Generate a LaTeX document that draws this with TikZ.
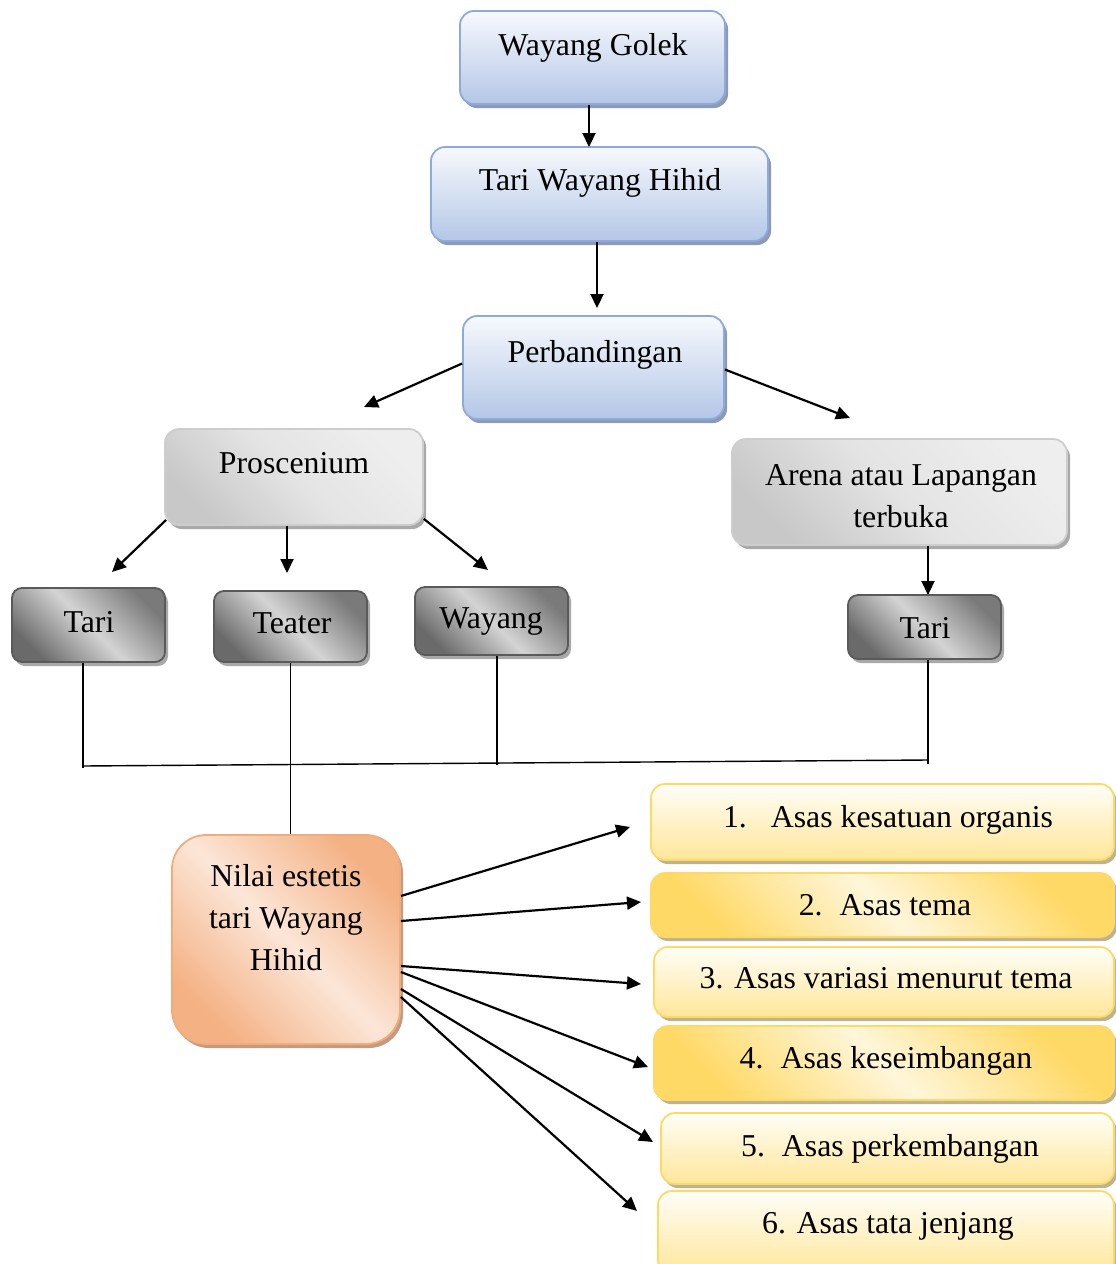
\documentclass[tikz,border=0pt]{standalone}
\usepackage{fontspec}
\setmainfont{Liberation Serif}
\usetikzlibrary{shadows,arrows.meta,calc,shadings}
\definecolor{blueTop}{HTML}{F7F9FD}
\definecolor{blueBot}{HTML}{B4C7E7}
\definecolor{blueBd}{HTML}{8EAADC}
\definecolor{blueSh}{HTML}{8C9AB3}
\definecolor{lgA}{HTML}{C8C8C8}
\definecolor{lgB}{HTML}{E4E4E4}
\definecolor{lgC}{HTML}{EEEEEE}
\definecolor{lgBd}{HTML}{CDCDCD}
\definecolor{grSh}{HTML}{A9A9A9}
\definecolor{dkA}{HTML}{6A6A6A}
\definecolor{dkB}{HTML}{D4D4D4}
\definecolor{dkC}{HTML}{7A7A7A}
\definecolor{dkBd}{HTML}{5A5A5A}
\definecolor{orA}{HTML}{F4B183}
\definecolor{orB}{HTML}{FCE6D8}
\definecolor{orBd}{HTML}{F2AC7C}
\definecolor{orSh}{HTML}{C49A80}
\definecolor{yeTop}{HTML}{FFFEF8}
\definecolor{yeBot}{HTML}{FFE699}
\definecolor{yeA}{HTML}{FFD966}
\definecolor{yeB}{HTML}{FFF6DA}
\definecolor{yeBd}{HTML}{FFD966}
\definecolor{yeSh}{HTML}{BDB38F}
\begin{document}
\begin{tikzpicture}[x=1pt,y=-1pt,
  txt/.style={font=\fontsize{31.8}{42}\selectfont, inner sep=0pt, anchor=base, align=center},
  boxbase/.style={rounded corners=14pt, line width=1.8pt, inner sep=0pt},
  bluebox/.style={boxbase, draw=blueBd, top color=blueTop, bottom color=blueBot,
    drop shadow={shadow xshift=3pt, shadow yshift=-4pt, fill=blueSh, opacity=1}},
  lgbox/.style={boxbase, draw=lgBd, left color=lgA, right color=lgC, middle color=lgB, shading angle=135,
    drop shadow={shadow xshift=3pt, shadow yshift=-4pt, fill=grSh, opacity=1}},
  dkbox/.style={boxbase, rounded corners=10pt, draw=dkBd, left color=dkA, right color=dkC, middle color=dkB, shading angle=135,
    drop shadow={shadow xshift=3pt, shadow yshift=-4pt, fill=grSh, opacity=1}},
  orbox/.style={boxbase, rounded corners=34pt, draw=orBd, left color=orA, right color=orA, middle color=orB, shading angle=135,
    drop shadow={shadow xshift=3pt, shadow yshift=-4pt, fill=orSh, opacity=1}},
  yebox/.style={boxbase, draw=yeBd, top color=yeTop, bottom color=yeBot,
    drop shadow={shadow xshift=3pt, shadow yshift=-4pt, fill=yeSh, opacity=1}},
  yeboxd/.style={boxbase, draw=yeBd, left color=yeA, right color=yeA, middle color=yeB, shading angle=135,
    drop shadow={shadow xshift=3pt, shadow yshift=-4pt, fill=yeSh, opacity=1}},
  arr/.style={line width=2.2pt, -{Triangle[length=14pt,width=13pt]}},
  ln/.style={line width=1.4pt}
]
\useasboundingbox (0,0) rectangle (1116,1264);
\fill[white] (0,0) rectangle (1116,1264);
\clip (0,0) rectangle (1116,1264);

% boxes
\node[bluebox, minimum width=265pt, minimum height=93pt] (golek) at (592.5,57.5) {};
\node[bluebox, minimum width=337pt, minimum height=94pt] (hihid) at (599.5,194) {};
\node[bluebox, minimum width=261pt, minimum height=103pt] (perb) at (593.5,367.5) {};
\node[lgbox, minimum width=258pt, minimum height=96pt] (pros) at (294,477) {};
\node[lgbox, minimum width=335pt, minimum height=106pt] (arena) at (899.5,492) {};
\node[dkbox, minimum width=153pt, minimum height=74pt] (tariL) at (88.5,625) {};
\node[dkbox, minimum width=153pt, minimum height=71pt] (teater) at (290.5,626.5) {};
\node[dkbox, minimum width=153pt, minimum height=68pt] (wayang) at (491.5,621) {};
\node[dkbox, minimum width=153pt, minimum height=64pt] (tariR) at (924.5,627) {};
\node[orbox, minimum width=228pt, minimum height=209pt] (nilai) at (286,939.5) {};
\node[yebox, minimum width=463pt, minimum height=76pt] (y1) at (882.5,822) {};
\node[yeboxd, minimum width=463pt, minimum height=64pt] (y2) at (882.5,905) {};
\node[yebox, minimum width=460pt, minimum height=70pt] (y3) at (884,982) {};
\node[yeboxd, minimum width=460pt, minimum height=74pt] (y4) at (884,1063) {};
\node[yebox, minimum width=453pt, minimum height=71pt] (y5) at (887.5,1148.5) {};
\node[yebox, minimum width=456pt, minimum height=84pt] (y6) at (886,1233) {};

% texts
\node[txt] (tGolek) at (593,55) {Wayang Golek};
\node[txt] (tHihid) at (600,190) {Tari Wayang Hihid};
\node[txt] (tPerb) at (595,362) {Perbandingan};
\node[txt] (tPros) at (294,473) {Proscenium};
\node[txt] (tArena) at (901,527) {Arena atau Lapangan\\terbuka};
\node[txt] (tTariL) at (89,632) {Tari};
\node[txt] (tTeater) at (292,633) {Teater};
\node[txt] (tWayang) at (491,628) {Wayang};
\node[txt] (tTariR) at (925,638) {Tari};
\node[txt] (tNilai) at (286,970) {Nilai estetis\\tari Wayang\\Hihid};
\node[txt] (t1) at (888,827) {1.\hspace{24pt}Asas kesatuan organis};
\node[txt] (t2) at (885,915) {2.\hspace{17pt}Asas tema};
\node[txt] (t3) at (886,988) {3. Asas variasi menurut tema};
\node[txt] (t4) at (886,1068) {4.\hspace{17pt}Asas keseimbangan};
\node[txt] (t5) at (890,1156) {5.\hspace{17pt}Asas perkembangan};
\node[txt] (t6) at (888,1233) {6. Asas tata jenjang};

% arrow tips and junctions
\coordinate (aGH) at (589,147);
\coordinate (aHP) at (597,308);
\coordinate (aPL) at (364,407);
\coordinate (aPR) at (850,418);
\coordinate (aTL) at (112,572);
\coordinate (aTT) at (287,573);
\coordinate (aTW) at (488,570);
\coordinate (aAT) at (928,595);
\coordinate (jL) at (83,768);
\coordinate (jW) at (497,765);
\coordinate (jR) at (928,764);
\coordinate (hL) at (82,766);
\coordinate (hR) at (928,760);
\coordinate (e1) at (630,827);
\coordinate (e2) at (641,902);
\coordinate (e3) at (641,984);
\coordinate (e4) at (648,1067);
\coordinate (e5) at (653,1142);
\coordinate (e6) at (637,1211);

% connectors
\draw[arr] (golek.south -| aGH) -- (aGH);
\draw[arr] (hihid.south -| aHP) -- (aHP);
\draw[arr] ($(perb.west)+(0,-4)$) -- (aPL);
\draw[arr] ($(perb.east)+(0,2)$) -- (aPR);
\draw[arr] ($(pros.south west)+(2,-6)$) -- (aTL);
\draw[arr] (pros.south -| aTT) -- (aTT);
\draw[arr] ($(pros.south east)+(0,-7)$) -- (aTW);
\draw[arr] (arena.south -| aAT) -- (aAT);

\draw[ln] (tariL.south -| jL) -- (jL);
\draw[ln] (teater.south) -- (teater.south |- nilai.north);
\draw[ln] (wayang.south -| jW) -- (jW);
\draw[ln] (tariR.south -| jR) -- (jR);
\draw[ln] (hL) -- (hR);

\draw[arr] ($(nilai.east)+(0,-43.5)$) -- (e1);
\draw[arr] ($(nilai.east)+(0,-18.5)$) -- (e2);
\draw[arr] ($(nilai.east)+(0,26.5)$) -- (e3);
\draw[arr] ($(nilai.east)+(0,32.5)$) -- (e4);
\draw[arr] ($(nilai.east)+(0,49.5)$) -- (e5);
\draw[arr] ($(nilai.east)+(0,57.5)$) -- (e6);
\end{tikzpicture}
\end{document}
